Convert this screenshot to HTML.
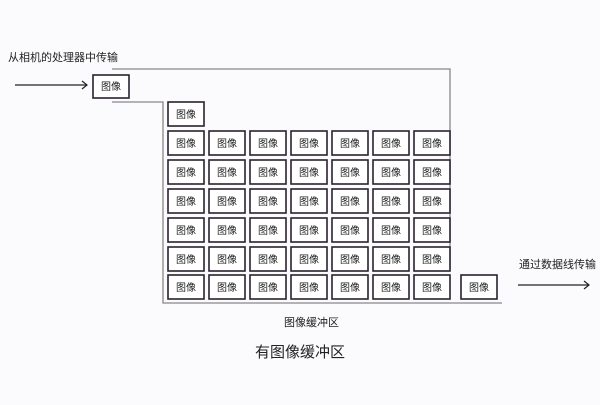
<!DOCTYPE html>
<html><head><meta charset="utf-8"><style>
body{margin:0;width:600px;height:400px;background:#fbfbfd;overflow:hidden}
svg text{font-family:"Liberation Sans","Noto Sans CJK SC",sans-serif;fill:#222}
</style></head><body>
<svg width="600" height="400" xmlns="http://www.w3.org/2000/svg">
<defs>
<g id="bx"><rect x="0" y="0" width="36" height="24" fill="#fff" stroke="#2a2230" stroke-width="1.6"/><text x="18" y="16" font-size="10" text-anchor="middle">图像</text></g>
<g id="row"><use href="#bx" x="0"/><use href="#bx" x="41"/><use href="#bx" x="82"/><use href="#bx" x="123"/><use href="#bx" x="164"/><use href="#bx" x="205"/><use href="#bx" x="246"/></g>
</defs>
<g stroke="#888" stroke-width="1.3" fill="none">
<polyline points="112,69 450,69 450,268"/>
<polyline points="112,102 163,102 163,303 502,303"/>
</g>
<g stroke="#222" stroke-width="1.2" fill="none">
<line x1="15" y1="85" x2="87" y2="85"/><polyline points="82,81 87,85 82,89"/>
<line x1="518" y1="285" x2="589" y2="285"/><polyline points="584,281 589,285 584,289"/>
</g>
<text x="8" y="61" font-size="11">从相机的处理器中传输</text>
<text x="519" y="268" font-size="11">通过数据线传输</text>
<text x="284" y="326" font-size="11">图像缓冲区</text>
<text x="255" y="357" font-size="15">有图像缓冲区</text>
<g font-size="10" text-anchor="middle">
<rect x="93" y="75" width="36" height="23" fill="#fff" stroke="#2a2230" stroke-width="1.6"/><text x="111" y="90">图像</text>
</g>
<use href="#bx" x="168" y="102"/>
<use href="#bx" x="461" y="275"/>
<use href="#row" x="168" y="131"/>
<use href="#row" x="168" y="160"/>
<use href="#row" x="168" y="189"/>
<use href="#row" x="168" y="218"/>
<use href="#row" x="168" y="247"/>
<use href="#row" x="168" y="275"/>
</svg>
</body></html>
